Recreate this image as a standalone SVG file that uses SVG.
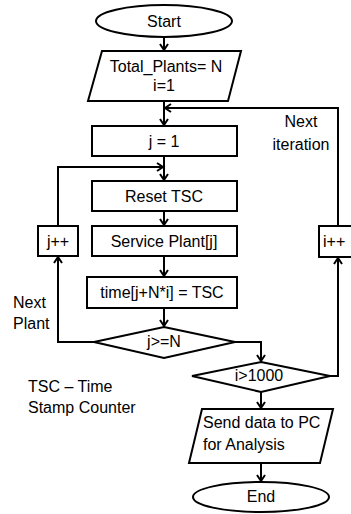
<svg xmlns="http://www.w3.org/2000/svg" width="351" height="514" viewBox="0 0 351 514">
  <defs>
    <marker id="arrow" markerWidth="10" markerHeight="10" refX="7" refY="5" orient="auto" markerUnits="userSpaceOnUse">
      <path d="M1,1 L7,5 L1,9" fill="none" stroke="#000" stroke-width="2"/>
    </marker>
    <style>
      .shape { fill: #fff; stroke: #000; stroke-width: 2; }
      .wire { fill: none; stroke: #000; stroke-width: 2; }
      text { font-family: "Liberation Sans", Arial, sans-serif; font-size: 16px; fill: #000; }
      .c { text-anchor: middle; }
    </style>
  </defs>
  <rect x="0" y="0" width="351" height="514" fill="#fff"/>

  <!-- connectors -->
  <g id="connectors">
    <path class="wire" d="M164,37 V50" marker-end="url(#arrow)"/>
    <path class="wire" d="M164,101 V125" marker-end="url(#arrow)"/>
    <path class="wire" d="M338,226 V108 H165" marker-end="url(#arrow)"/>
    <path class="wire" d="M164,156 V180" marker-end="url(#arrow)"/>
    <path class="wire" d="M58,226 V167 H163" marker-end="url(#arrow)"/>
    <path class="wire" d="M164,211 V225" marker-end="url(#arrow)"/>
    <path class="wire" d="M164,256 V276" marker-end="url(#arrow)"/>
    <path class="wire" d="M164,308 V326" marker-end="url(#arrow)"/>
    <path class="wire" d="M94,342 H58 V257" marker-end="url(#arrow)"/>
    <path class="wire" d="M235,342 H261 V361" marker-end="url(#arrow)"/>
    <path class="wire" d="M330,376 H338 V258" marker-end="url(#arrow)"/>
    <path class="wire" d="M261,392 V408" marker-end="url(#arrow)"/>
    <path class="wire" d="M261,463 V481" marker-end="url(#arrow)"/>
  </g>

  <g id="start">
    <ellipse class="shape" cx="164" cy="21" rx="68" ry="16"/>
    <text class="c" x="164" y="27">Start</text>
  </g>

  <g id="init">
    <polygon class="shape" points="102,51 241,51 228,101 88,101"/>
    <text class="c" x="166" y="72">Total_Plants= N</text>
    <text class="c" x="164" y="91">i=1</text>
  </g>

  <g id="next-iteration-label">
    <text class="c" x="301" y="127">Next</text>
    <text class="c" x="301" y="150">iteration</text>
  </g>

  <g id="j-init">
    <rect class="shape" x="92" y="126" width="145" height="30"/>
    <text class="c" x="164" y="147">j = 1</text>
  </g>

  <g id="reset-tsc">
    <rect class="shape" x="92" y="181" width="145" height="30"/>
    <text class="c" x="164" y="202">Reset TSC</text>
  </g>

  <g id="service-plant">
    <rect class="shape" x="92" y="226" width="145" height="30"/>
    <text class="c" x="164" y="247">Service Plant[j]</text>
  </g>

  <g id="j-inc">
    <rect class="shape" x="38" y="226" width="40" height="30"/>
    <text class="c" x="58" y="247">j++</text>
  </g>

  <g id="i-inc">
    <rect class="shape" x="319" y="226" width="40" height="31"/>
    <text x="323" y="247">i++</text>
  </g>

  <g id="store-time">
    <rect class="shape" x="87" y="277" width="150" height="31"/>
    <text class="c" x="162" y="298">time[j+N*i] = TSC</text>
  </g>

  <g id="next-plant-label">
    <text x="13" y="308">Next</text>
    <text x="13" y="329">Plant</text>
  </g>

  <g id="check-j">
    <polygon class="shape" points="164,327 235,342 164,358 94,342"/>
    <text class="c" x="164" y="347">j&gt;=N</text>
  </g>

  <g id="check-i">
    <polygon class="shape" points="261,362 330,376 261,392 192,376"/>
    <text class="c" x="259" y="381">i&gt;1000</text>
  </g>

  <g id="tsc-note">
    <text x="28" y="392">TSC – Time</text>
    <text x="28" y="413">Stamp Counter</text>
  </g>

  <g id="send-data">
    <polygon class="shape" points="202,409 333,409 320,463 189,463"/>
    <text x="203" y="428">Send data to PC</text>
    <text x="203" y="450">for Analysis</text>
  </g>

  <g id="end">
    <ellipse class="shape" cx="261" cy="497" rx="68" ry="15"/>
    <text class="c" x="261" y="502">End</text>
  </g>
</svg>
